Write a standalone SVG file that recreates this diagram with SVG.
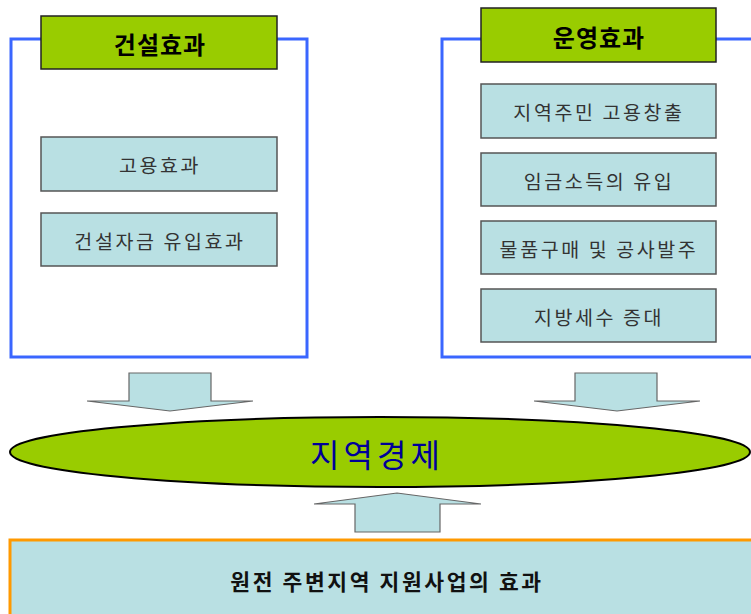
<svg xmlns="http://www.w3.org/2000/svg" width="751" height="614" viewBox="0 0 751 614">
<style>
.frame{fill:#fff;stroke:#3a66ff;stroke-width:3}
.head{fill:#99cc00;stroke:#222;stroke-width:1.5}
.box{fill:#b9e0e3;stroke:#555;stroke-width:1.5}
.arrow{fill:#b9e0e3;stroke:#666;stroke-width:1.2}
.ht{font-family:"Noto Sans CJK KR","Noto Sans",sans-serif;font-size:24px;font-weight:bold;fill:#000;text-anchor:middle;dominant-baseline:central;letter-spacing:1px}
.bt{font-family:"Noto Sans CJK KR","Noto Sans",sans-serif;font-size:19.5px;fill:#333;text-anchor:middle;dominant-baseline:central;letter-spacing:2.6px}
</style>
<rect width="751" height="614" fill="#fff"/>
<g id="construction">
<rect class="frame" x="11" y="39" width="296" height="318"/>
<rect class="head" x="41" y="16" width="236" height="53"/>
<text class="ht" x="160" y="43">건설효과</text>
</g>
<g id="c1"><rect class="box" x="41" y="137" width="236" height="54"/><text class="bt" x="160" y="164">고용효과</text></g>
<g id="c2"><rect class="box" x="41" y="213" width="236" height="53"/><text class="bt" x="160" y="240">건설자금 유입효과</text></g>
<g id="operation">
<rect class="frame" x="442" y="39" width="320" height="318"/>
<rect class="head" x="481" y="8" width="235" height="54"/>
<text class="ht" x="599" y="36">운영효과</text>
</g>
<g id="o1"><rect class="box" x="481" y="84" width="235" height="54"/><text class="bt" x="599" y="111">지역주민 고용창출</text></g>
<g id="o2"><rect class="box" x="481" y="153" width="235" height="53"/><text class="bt" x="599" y="180">임금소득의 유입</text></g>
<g id="o3"><rect class="box" x="481" y="221" width="235" height="53"/><text class="bt" x="599" y="248">물품구매 및 공사발주</text></g>
<g id="o4"><rect class="box" x="481" y="289" width="235" height="53"/><text class="bt" x="599" y="316">지방세수 증대</text></g>
<g id="connectors">
<polygon class="arrow" points="129,373 211,373 211,401 253,401 170,411 87,401 129,401"/>
<polygon class="arrow" points="575,373 657,373 657,401 700,401 617,411 534,401 575,401"/>
<polygon class="arrow" points="355,532 440,532 440,504 481,504 397,493 314,504 355,504"/>
</g>
<g id="economy">
<ellipse cx="380" cy="452" rx="370" ry="35" fill="#99cc00" stroke="#000" stroke-width="2"/>
<text x="377" y="453" font-family="'Noto Sans CJK KR','Noto Sans',sans-serif" font-size="32" fill="#000099" text-anchor="middle" dominant-baseline="central" letter-spacing="4">지역경제</text>
</g>
<g id="support">
<rect x="10" y="540" width="760" height="90" fill="#b9e0e3" stroke="#ff9900" stroke-width="3"/>
<text x="387" y="580" font-family="'Noto Sans CJK KR','Noto Sans',sans-serif" font-size="21.5" font-weight="bold" fill="#111" text-anchor="middle" dominant-baseline="central" letter-spacing="2.6">원전 주변지역 지원사업의 효과</text>
</g>
</svg>
